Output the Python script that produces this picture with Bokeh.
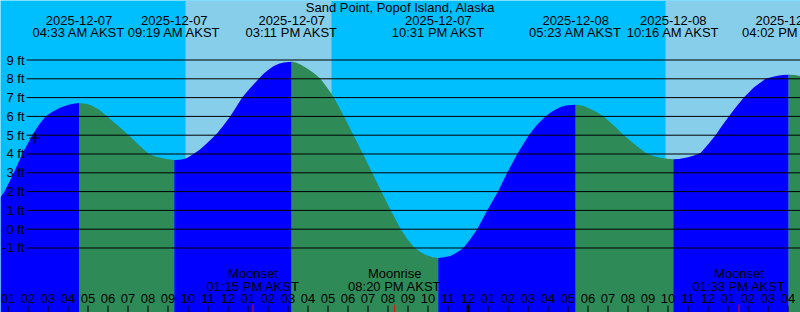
from bokeh.plotting import figure
from bokeh.embed import file_html
from bokeh.resources import INLINE
from bokeh.core.properties import value
from bokeh.models import ColumnDataSource

# ---- data (hours since 2025-12-07 00:00 AKST, heights in ft) ----
tide_hours = [0.625, 0.825, 1.29, 1.71, 2.21, 2.55, 2.875, 3.225, 3.625, 4.125, 4.55,
              4.875, 5.125, 5.525, 5.96, 6.5, 7.04, 7.54, 8.04, 8.34, 8.625, 8.975, 9.317,
              9.625, 9.925, 10.275, 10.6, 10.875, 11.17, 11.46, 11.8, 12.125, 12.41, 12.71,
              13.1, 13.54, 13.79, 14.04, 14.29, 14.54, 14.79, 15.183,
              15.4, 15.625, 15.96, 16.3, 16.625, 16.96, 17.3, 17.8, 18.275, 18.75, 19.21,
              19.67, 20.14, 20.64, 20.96, 21.29, 21.6, 21.875, 22.225, 22.517,
              22.8, 23.125, 23.375, 23.6, 23.79, 24.1, 24.46, 24.96, 25.5, 25.96, 26.46,
              27.04, 27.45, 27.875, 28.15, 28.425, 28.7, 28.975, 29.383,
              29.75, 30.125, 30.45, 30.79, 31.3, 31.79, 32.4, 32.96, 33.3, 33.625, 33.95, 34.267,
              34.55, 35.0, 35.3, 35.625, 36.0, 36.375, 36.7, 37.04, 37.4, 37.79, 38.3, 38.875,
              39.2, 39.475, 39.75, 40.033, 40.33, 40.625]
tide_ft = [1.70, 2.0, 3.0, 4.0, 5.0, 5.55, 6.0, 6.25, 6.47, 6.65, 6.71,
           6.67, 6.60, 6.38, 6.0, 5.5, 5.0, 4.48, 4.0, 3.88, 3.80, 3.72, 3.68,
           3.70, 3.77, 4.0, 4.24, 4.5, 4.8, 5.1, 5.55, 6.02, 6.5, 7.0,
           7.5, 8.0, 8.28, 8.5, 8.68, 8.8, 8.87, 8.91,
           8.87, 8.76, 8.55, 8.3, 8.0, 7.52, 7.0, 6.0, 5.0, 4.0, 3.0,
           2.0, 1.0, 0.0, -0.52, -0.95, -1.2, -1.36, -1.49, -1.53,
           -1.49, -1.42, -1.28, -1.13, -0.98, -0.55, 0.0, 1.0, 2.0, 3.0, 4.0,
           5.0, 5.55, 6.0, 6.22, 6.4, 6.52, 6.59, 6.62,
           6.56, 6.40, 6.22, 6.0, 5.5, 5.0, 4.45, 4.0, 3.88, 3.80, 3.75, 3.72,
           3.74, 3.83, 3.92, 4.05, 4.5, 5.0, 5.5, 6.0, 6.5, 7.0, 7.55, 8.0,
           8.1, 8.16, 8.2, 8.22, 8.2, 8.15]

ext_hours = [4.55, 9.317, 15.183, 22.517, 29.383, 34.267, 40.033]
ext_dates = ["2025-12-07", "2025-12-07", "2025-12-07", "2025-12-07",
             "2025-12-08", "2025-12-08", "2025-12-08"]
ext_times = ["04:33 AM AKST", "09:19 AM AKST", "03:11 PM AKST", "10:31 PM AKST",
             "05:23 AM AKST", "10:16 AM AKST", "04:02 PM AKST"]

sunrise_hours = [9.875, 33.875]
sunset_hours = [17.175, 41.175]

moon_hours = [13.25, 20.333, 37.55]
moon_names = ["Moonset", "Moonrise", "Moonset"]
moon_times = ["01:15 PM AKST", "08:20 PM AKST", "01:33 PM AKST"]

ft_levels = [-1, 0, 1, 2, 3, 4, 5, 6, 7, 8, 9]
ft_labels = ["-1 ft", "0 ft", "1 ft", "2 ft", "3 ft", "4 ft", "5 ft", "6 ft", "7 ft", "8 ft", "9 ft"]

hour_ticks = list(range(1, 41))
hour_labels = ["%02d" % (((h - 1) % 12) + 1) for h in hour_ticks]
midnight_hours = [24]

now_hour = [2.34]
now_ft = [4.85]

title = "Sand Point, Popof Island, Alaska"

# ---- layout ----
W, H = 800, 312
x0, x1 = 0.625, 40.625
y0, y1 = -4.431, 12.165
ppf = H / (y1 - y0)        # pixels per foot
pph = W / (x1 - x0)        # pixels per hour

NIGHT = "#00BFFF"
DAY = "#87CEEB"
RISE = "#0000FF"
FALL = "#2E8B57"
FONT = value("Liberation Sans")
FS = "13px"

p = figure(width=W, height=H, x_range=(x0, x1), y_range=(y0, y1),
           output_backend="svg", toolbar_location=None, min_border=0)
p.axis.visible = False
p.grid.visible = False
p.outline_line_color = None
p.background_fill_color = NIGHT
p.border_fill_color = NIGHT

# day bands
p.quad(left=sunrise_hours, right=sunset_hours, bottom=y0, top=y1,
       fill_color=DAY, line_color=None)

# tide fill, coloured by rising / falling run
bounds = [tide_hours[0]] + ext_hours + [tide_hours[-1]]
for a, b in zip(bounds[:-1], bounds[1:]):
    xs = [t for t in tide_hours if a - 1e-9 <= t <= b + 1e-9]
    ys = [h for t, h in zip(tide_hours, tide_ft) if a - 1e-9 <= t <= b + 1e-9]
    if len(xs) < 2:
        continue
    col = RISE if ys[-1] > ys[0] else FALL
    p.varea(x=xs, y1=[y0] * len(xs), y2=ys, fill_color=col)

# horizontal ft lines
p.segment(x0=[x0 + 26 / pph] * len(ft_levels), y0=ft_levels,
          x1=[x1] * len(ft_levels), y1=ft_levels, line_color="black", line_width=1)

TXT = dict(text_baseline="alphabetic", text_font=FONT, text_font_size=FS, text_color="black")

# ft labels
p.text(x=[x0] * len(ft_levels), y=ft_levels, text=ft_labels, x_offset=24, y_offset=0,
       text_align="right", **TXT)

# title
p.text(x=[(x0 + x1) / 2], y=[y1], text=[title], y_offset=6.5, text_align="center", **TXT)

# extreme labels
ext_src = ColumnDataSource(dict(x=ext_hours, y=[y1] * len(ext_hours), d=ext_dates, t=ext_times))
p.text(x="x", y="y", text="d", source=ext_src, y_offset=19.5, text_align="center", **TXT)
p.text(x="x", y="y", text="t", source=ext_src, y_offset=31.5, text_align="center", **TXT)

# moon labels
moon_src = ColumnDataSource(dict(x=moon_hours, y=[y0] * len(moon_hours), n=moon_names, t=moon_times))
p.text(x="x", y="y", text="n", source=moon_src, y_offset=-39, text_align="center", **TXT)
p.text(x="x", y="y", text="t", source=moon_src, y_offset=-26.5, text_align="center", **TXT)

# hour labels and ticks
p.text(x=hour_ticks, y=[y0] * len(hour_ticks), text=hour_labels, y_offset=-14.5,
       text_align="center", **TXT)
p.segment(x0=hour_ticks, y0=[y0] * len(hour_ticks), x1=hour_ticks,
          y1=[y0 + 7 / ppf] * len(hour_ticks), line_color="black", line_width=1)
p.segment(x0=midnight_hours, y0=[y0], x1=midnight_hours, y1=[y0 + 8 / ppf],
          line_color="black", line_width=3)
p.segment(x0=moon_hours, y0=[y0] * len(moon_hours), x1=moon_hours,
          y1=[y0 + 8 / ppf] * len(moon_hours), line_color="red", line_width=1)

# current-time mark
p.scatter(x=now_hour, y=now_ft, marker="cross", size=11, line_color="black", line_width=1)

open("out.html", "w").write(file_html(p, INLINE))
